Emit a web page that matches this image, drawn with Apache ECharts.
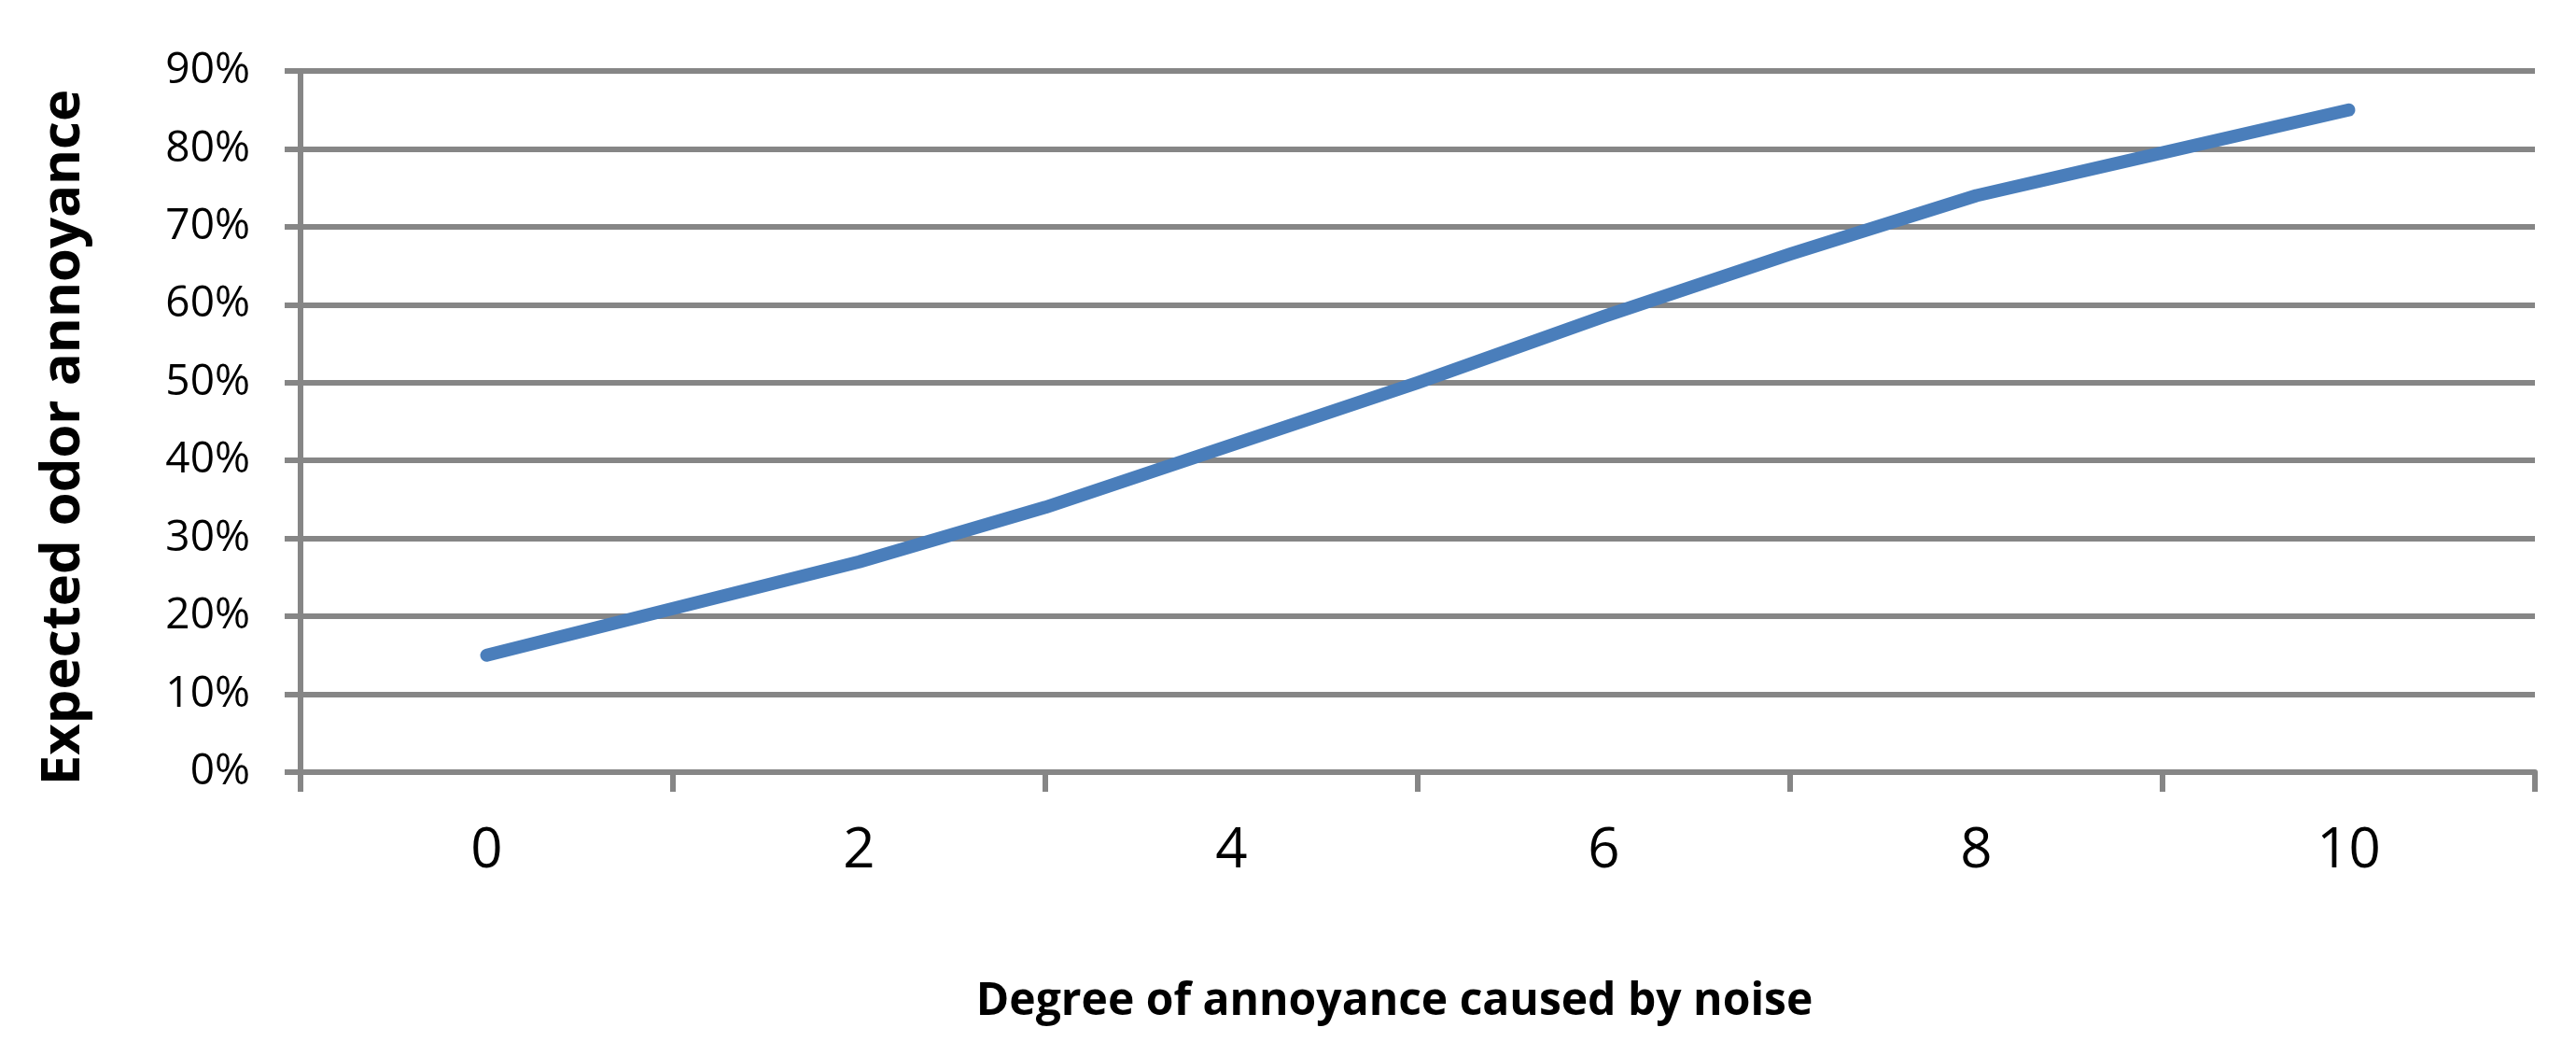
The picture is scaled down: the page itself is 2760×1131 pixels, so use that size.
<!DOCTYPE html>
<html>
<head>
<meta charset="utf-8">
<script src="https://cdn.jsdelivr.net/npm/echarts@6/dist/echarts.min.js"></script>
<style>
html,body{margin:0;padding:0;background:#fff;}
#chart{width:2760px;height:1131px;}
</style>
</head>
<body>
<div id="chart"></div>
<script>
// Data
const categories = ['0','1','2','3','4','5','6','7','8','9','10'];
const odorAnnoyance = [15, 21, 27, 34, 42, 50, 58.5, 66.5, 74, 79.5, 85];
const yTicks = [0, 10, 20, 30, 40, 50, 60, 70, 80, 90];
const xTitle = 'Degree of annoyance caused by noise';
const yTitle = 'Expected odor annoyance';

// Axis categories padded by one empty slot on each side (Excel-style boundary)
const axisCats = [''].concat(categories, ['']);
const seriesData = [null].concat(odorAnnoyance, [null]);

const gridColor = '#868686';
const chart = echarts.init(document.getElementById('chart'), null, {renderer: 'canvas'});
chart.setOption({
  animation: false,
  backgroundColor: '#ffffff',
  grid: {left: 322, right: 44, top: 76, bottom: 304, containLabel: false},
  xAxis: {
    type: 'category',
    data: axisCats,
    boundaryGap: false,
    axisLine: {show: true, lineStyle: {color: gridColor, width: 6}},
    axisTick: {show: true, length: 21, interval: (i) => i % 2 === 0, lineStyle: {color: gridColor, width: 6}},
    axisLabel: {show: true, interval: (i) => i % 2 === 1, margin: 55, color: '#000', fontFamily: 'Open Sans', fontSize: 60},
    splitLine: {show: false},
    name: xTitle,
    nameLocation: 'middle',
    nameGap: 222,
    nameTextStyle: {fontFamily: 'Open Sans', fontWeight: 'bold', fontSize: 48, color: '#000', padding: [0, 50, 0, 0]}
  },
  yAxis: {
    type: 'value',
    min: yTicks[0],
    max: yTicks[yTicks.length - 1],
    interval: yTicks[1] - yTicks[0],
    axisLine: {show: true, lineStyle: {color: gridColor, width: 6}},
    axisTick: {show: true, length: 17, lineStyle: {color: gridColor, width: 6}},
    axisLabel: {margin: 54, color: '#000', fontFamily: 'Open Sans', fontSize: 46, formatter: '{value}%'},
    splitLine: {show: true, lineStyle: {color: gridColor, width: 6}},
    name: yTitle,
    nameLocation: 'middle',
    nameRotate: 90,
    nameGap: 225,
    nameTextStyle: {fontFamily: 'Open Sans', fontWeight: 'bold', fontSize: 58, color: '#000', padding: [0, 34, 0, 0]}
  },
  series: [{
    type: 'line',
    data: seriesData,
    showSymbol: false,
    symbol: 'none',
    connectNulls: false,
    lineStyle: {color: '#4a7ebb', width: 14, cap: 'round', join: 'round'},
    z: 3
  }]
});
</script>
</body>
</html>
